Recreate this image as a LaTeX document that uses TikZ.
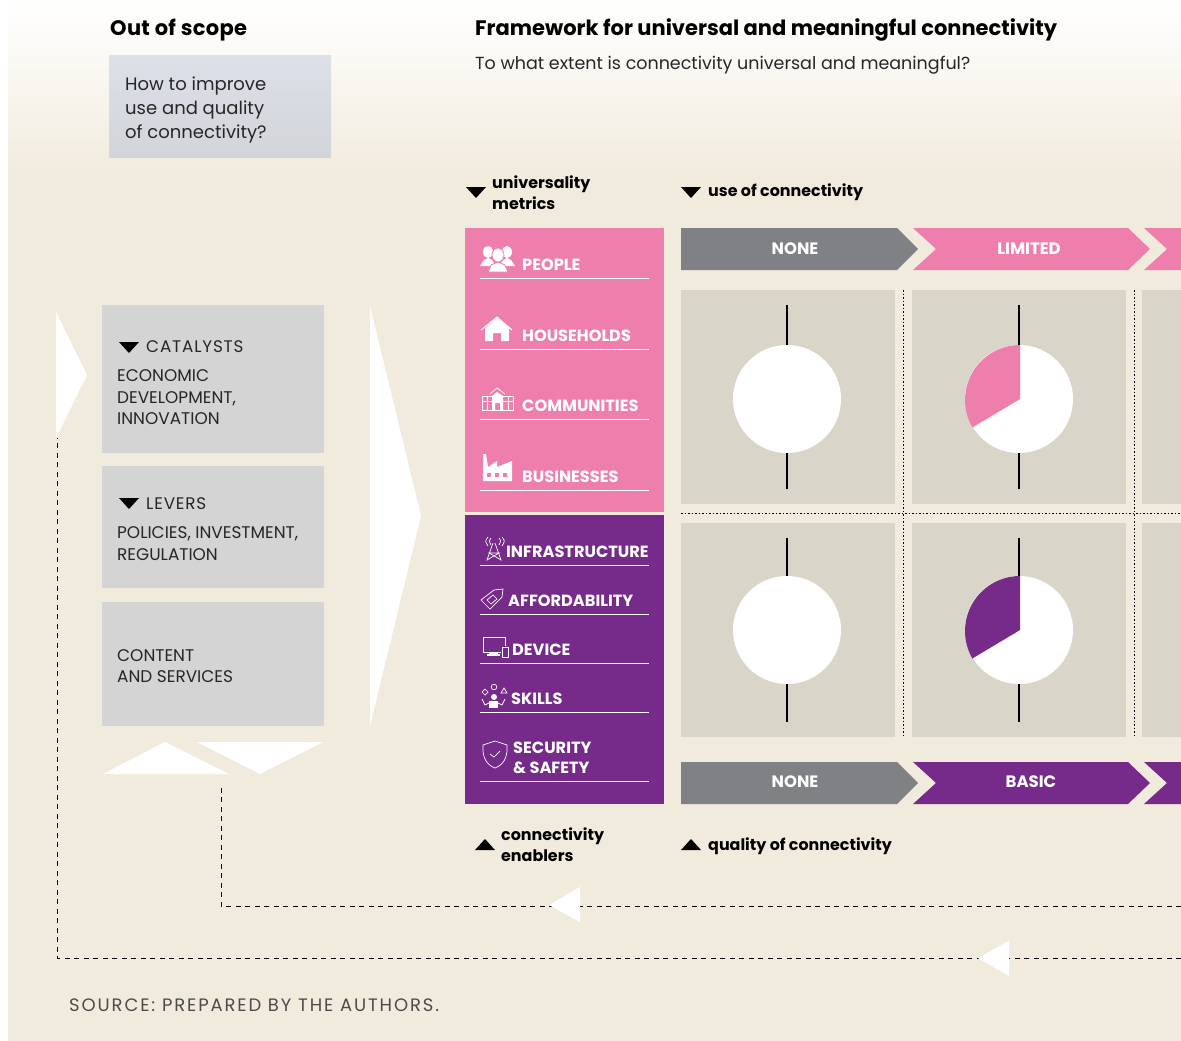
\documentclass[tikz,border=0pt]{standalone}
\usepackage{fontspec}
\setmainfont{Poppins}

\definecolor{sand}{HTML}{F1EBDD}
\definecolor{pinkbar}{HTML}{EE7FAC}
\definecolor{purplebar}{HTML}{762A8A}
\definecolor{graybar}{HTML}{808184}
\definecolor{cellgray}{HTML}{D9D5C9}
\definecolor{boxgray}{HTML}{D4D4D4}
\definecolor{boxtop}{HTML}{DCE0E8}
\definecolor{boxbot}{HTML}{D2D4D8}

\tikzset{
    lab/.style={anchor=base west, inner sep=0pt},
    title/.style={lab, font=\fontsize{21}{24}\selectfont\bfseries},
    body/.style={lab, font=\fontsize{17.5}{24}\selectfont, text=black!85},
    boxtext/.style={lab, font=\fontsize{18}{24}\selectfont, text=black!85},
    small/.style={lab, font=\fontsize{15.9}{21}\selectfont\bfseries},
    caps/.style={lab, font=\fontsize{16.9}{21}\selectfont, text=black!85},
    head/.style={lab, font=\fontsize{16.8}{21}\selectfont\addfontfeature{LetterSpace=5}, text=black!85},
    metric/.style={lab, font=\fontsize{16.2}{20}\selectfont\bfseries, text=white},
    level/.style={inner sep=0pt, font=\fontsize{16.5}{20}\selectfont\bfseries, text=white},
    cell/.style={fill=cellgray},
    graybox/.style={fill=boxgray},
    link/.style={draw=black, line width=0.9pt, dash pattern=on 5pt off 4.5pt},
    grid/.style={draw=black, line width=0.8pt, dash pattern=on 1.5pt off 2pt},
    pin/.style={draw=black, line width=1.1pt},
    rule/.style={draw=white, line width=0.9pt},
    icon/.style={draw=white, line width=0.7pt, fill=none}
}

\begin{document}
\begin{tikzpicture}[x=1pt, y=-1pt]
    \useasboundingbox (0,0) rectangle (1181,1041);
    \fill[white] (0,0) rectangle (1181,1041);
    \shade[top color=white, bottom color=sand] (8,0) rectangle (1181,180);
    \fill[sand] (8,180) rectangle (1181,1041);

    \node[title] (scope) at (110,36) {\addfontfeature{LetterSpace=1.5}Out of scope};
    \node[title] (frame) at (475,36) {Framework for universal and meaningful connectivity};
    \node[body] (extent) at (475,70) {To what extent is connectivity universal and meaningful?};

    \shade[top color=boxtop, bottom color=boxbot] (109,56) rectangle (331,157);
    \node[boxtext] (improveA) at (125,90) {How to improve};
    \node[boxtext] (improveB) at (125,114) {use and quality};
    \node[boxtext] (improveC) at (125,138) {of connectivity?};

    \fill[white] (56,312) -- (87,375) -- (56,438) -- cycle;
    \fill[graybox] (102,305) rectangle (324,453);
    \fill[graybox] (102,466) rectangle (324,588);
    \fill[graybox] (102,602) rectangle (324,726);
    \fill[white] (370,306) -- (421,516) -- (370,726) -- cycle;
    \fill[white] (103,774) -- (165,742) -- (229,774) -- cycle;
    \fill[white] (197,742) -- (323,742) -- (260,774) -- cycle;

    \fill[black] (119,342) -- (139,342) -- (129,353) -- cycle;
    \node[head] (catalysts) at (146,352) {CATALYSTS};
    \node[caps] (econA) at (117,381) {ECONOMIC};
    \node[caps] (econB) at (117,403) {DEVELOPMENT,};
    \node[caps] (econC) at (117,424) {INNOVATION};
    \fill[black] (119,498) -- (139,498) -- (129,509) -- cycle;
    \node[head] (levers) at (146,509) {LEVERS};
    \node[caps] (policyA) at (117,538) {POLICIES, INVESTMENT,};
    \node[caps] (policyB) at (117,560) {REGULATION};
    \node[caps] (contentA) at (117,661) {CONTENT};
    \node[caps] (contentB) at (117,682) {AND SERVICES};

    \fill[black] (466,187) -- (486,187) -- (476,198) -- cycle;
    \node[small] (univA) at (492,188) {universality};
    \node[small] (univB) at (492,209) {metrics};
    \fill[black] (681,187) -- (701,187) -- (691,198) -- cycle;
    \node[small] (use) at (708,196) {use of connectivity};
    \fill[black] (475,850) -- (495,850) -- (485,839) -- cycle;
    \node[small] (enabA) at (501,840) {connectivity};
    \node[small] (enabB) at (501,861) {enablers};
    \fill[black] (681,850) -- (701,850) -- (691,839) -- cycle;
    \node[small] (quality) at (708,850) {quality of connectivity};

    \fill[pinkbar] (465,228) rectangle (664,512);
    \fill[purplebar] (465,515) rectangle (664,804);
    \draw[rule] (480,278) -- (649,278);
    \draw[rule] (480,349) -- (649,349);
    \draw[rule] (480,419) -- (649,419);
    \draw[rule] (480,490) -- (649,490);
    \draw[rule] (480,565) -- (649,565);
    \draw[rule] (480,614) -- (649,614);
    \draw[rule] (480,663) -- (649,663);
    \draw[rule] (480,712) -- (649,712);
    \draw[rule] (480,781) -- (649,781);

    \node[metric] (people) at (522,270) {PEOPLE};
    \node[metric] (house) at (522,341) {HOUSEHOLDS};
    \node[metric] (commun) at (522,411) {COMMUNITIES};
    \node[metric] (busin) at (522,482) {BUSINESSES};
    \node[metric] (infra) at (506,557) {INFRASTRUCTURE};
    \node[metric] (afford) at (508,606) {AFFORDABILITY};
    \node[metric] (device) at (512,655) {DEVICE};
    \node[metric] (skills) at (511,704) {SKILLS};
    \node[metric] (securA) at (513,753) {SECURITY};
    \node[metric] (securB) at (513,773) {\& SAFETY};

    % people
    \fill[white] (480,266) -- (484,260) -- (488,258) -- (492,260) -- (496,266) -- cycle;
    \fill[white] (499,266) -- (503,260) -- (507,258) -- (511,260) -- (515,266) -- cycle;
    \fill[white] (488,252) ellipse [x radius=5, y radius=6];
    \fill[white] (507,252) ellipse [x radius=5, y radius=6];
    \fill[white, draw=pinkbar, line width=0.8pt] (488,272) -- (491,265) -- (498,262) -- (505,265) -- (508,272) -- cycle;
    \fill[white, draw=pinkbar, line width=0.8pt] (498,255) ellipse [x radius=6, y radius=7];
    % house
    \fill[white] (485,328) -- (497,318) -- (509,328) -- (509,341) -- (501,341) -- (501,333) -- (493,333) -- (493,341) -- (485,341) -- cycle;
    \draw[icon, line width=1pt] (481,330) -- (497,317) -- (512,330);
    % school
    \draw[icon] (482,396) rectangle (513,410);
    \draw[icon] (482,401) -- (513,401);
    \draw[icon] (487,396) -- (487,410);
    \draw[icon] (508,396) -- (508,410);
    \fill[white] (492,410) -- (492,396) -- (497,392) -- (503,396) -- (503,410) -- (500,410) -- (500,403) -- (495,403) -- (495,410) -- cycle;
    \draw[icon] (490,394) -- (497,388) -- (505,394);
    % factory
    \fill[white] (483,454) -- (486,454) -- (488,467) -- (497,461) -- (497,467) -- (512,461) -- (512,481) -- (483,481) -- cycle;
    \fill[pinkbar] (487,473) rectangle (491,477);
    \fill[pinkbar] (495,473) rectangle (499,477);
    \fill[pinkbar] (503,473) rectangle (507,477);
    % tower
    \draw[icon] (493,543) -- (487,560) -- (499,553) -- (489,553) -- (501,560) -- (495,543);
    \draw[icon] (488,537) .. controls (485,541) .. (488,546);
    \draw[icon] (491,538) .. controls (489,541) .. (491,545);
    \draw[icon] (502,537) .. controls (505,541) .. (502,546);
    \draw[icon] (499,538) .. controls (501,541) .. (499,545);
    % tag
    \draw[icon] (481,600) -- (494,590) -- (503,589) -- (502,597) -- (490,609) -- cycle;
    \draw[icon] (487,600) -- (493,595) -- (497,599) -- (491,604) -- cycle;
    % monitor
    \draw[icon] (483,637) rectangle (505,652);
    \fill[white] (489,652) rectangle (498,654);
    \fill[white] (487,654) rectangle (500,656);
    \fill[purplebar] (501,646) rectangle (509,658);
    \draw[icon] (502,647) rectangle (508,657);
    % skills
    \fill[white] (494,697) circle [radius=3];
    \fill[white] (489,701) rectangle (498,708);
    \draw[icon] (482,699) -- (485,705) -- (489,703);
    \draw[icon] (505,699) -- (502,705) -- (498,703);
    \draw[icon] (485,689) -- (488,692) -- (485,695) -- (482,692) -- cycle;
    \draw[icon] (494,687) circle [radius=2.8];
    \draw[icon] (504,688) -- (507,693) -- (501,693) -- cycle;
    % shield
    \draw[icon] (495,741) -- (507,745) .. controls (508,758) and (503,765) .. (495,768) .. controls (487,765) and (482,758) .. (483,745) -- cycle;
    \draw[icon] (490,754) -- (494,757) -- (500,751);

    \fill[graybar] (681,228) -- (897,228) -- (918,249) -- (897,270) -- (681,270) -- cycle;
    \fill[pinkbar] (913,228) -- (1128,228) -- (1150,249) -- (1128,270) -- (913,270) -- (936,249) -- cycle;
    \fill[pinkbar] (1144,228) -- (1181,228) -- (1181,270) -- (1144,270) -- (1167,249) -- cycle;
    \fill[graybar] (681,762) -- (897,762) -- (918,783) -- (897,804) -- (681,804) -- cycle;
    \fill[purplebar] (913,762) -- (1128,762) -- (1150,783) -- (1128,804) -- (913,804) -- (936,783) -- cycle;
    \fill[purplebar] (1144,762) -- (1181,762) -- (1181,804) -- (1144,804) -- (1167,783) -- cycle;
    \node[level] (noneA) at (795,249) {NONE};
    \node[level] (limited) at (1029,249) {LIMITED};
    \node[level] (noneB) at (795,782) {NONE};
    \node[level] (basic) at (1031,782) {BASIC};

    \fill[cell] (681,290) rectangle (895,504);
    \fill[cell] (912,290) rectangle (1126,504);
    \fill[cell] (1142,290) rectangle (1181,504);
    \fill[cell] (681,523) rectangle (895,737);
    \fill[cell] (912,523) rectangle (1126,737);
    \fill[cell] (1142,523) rectangle (1181,737);

    \coordinate (gridA) at (903,290);
    \coordinate (gridB) at (903,737);
    \coordinate (gridC) at (1134,290);
    \coordinate (gridD) at (1134,737);
    \coordinate (gridE) at (681,513);
    \coordinate (gridF) at (1181,513);
    \draw[grid] (gridA) -- (gridB);
    \draw[grid] (gridC) -- (gridD);
    \draw[grid] (gridE) -- (gridF);

    \coordinate (P) at (787,399);
    \coordinate (Q) at (1019,399);
    \coordinate (R) at (787,630);
    \coordinate (S) at (1019,630);
    \draw[pin] (787,305) -- (787,489);
    \draw[pin] (1019,305) -- (1019,489);
    \draw[pin] (787,538) -- (787,722);
    \draw[pin] (1019,538) -- (1019,722);
    \fill[white] (P) circle [radius=54];
    \fill[white] (Q) circle [radius=54];
    \fill[white] (R) circle [radius=54];
    \fill[white] (S) circle [radius=54];
    \fill[pinkbar] (1020,399) -- (1020,345) arc [start angle=-90, end angle=-210, radius=55] -- cycle;
    \fill[purplebar] (1020,630) -- (1020,576) arc [start angle=-90, end angle=-210, radius=55] -- cycle;

    \coordinate (linkA) at (1181,906);
    \coordinate (linkB) at (221,906);
    \coordinate (linkC) at (221,788);
    \coordinate (linkD) at (1181,958);
    \coordinate (linkE) at (57,958);
    \coordinate (linkF) at (57,438);
    \draw[link] (linkA) -- (linkB) -- (linkC);
    \draw[link] (linkD) -- (linkE) -- (linkF);
    \fill[white] (549,905) -- (580,887) -- (580,922) -- cycle;
    \fill[white] (978,958) -- (1009,941) -- (1009,976) -- cycle;

    \node[lab, font=\fontsize{18}{20}\selectfont\addfontfeature{LetterSpace=10.5}, text=black!70] (source) at (69,1011) {SOURCE: PREPARED BY THE AUTHORS.};
\end{tikzpicture}
\end{document}
